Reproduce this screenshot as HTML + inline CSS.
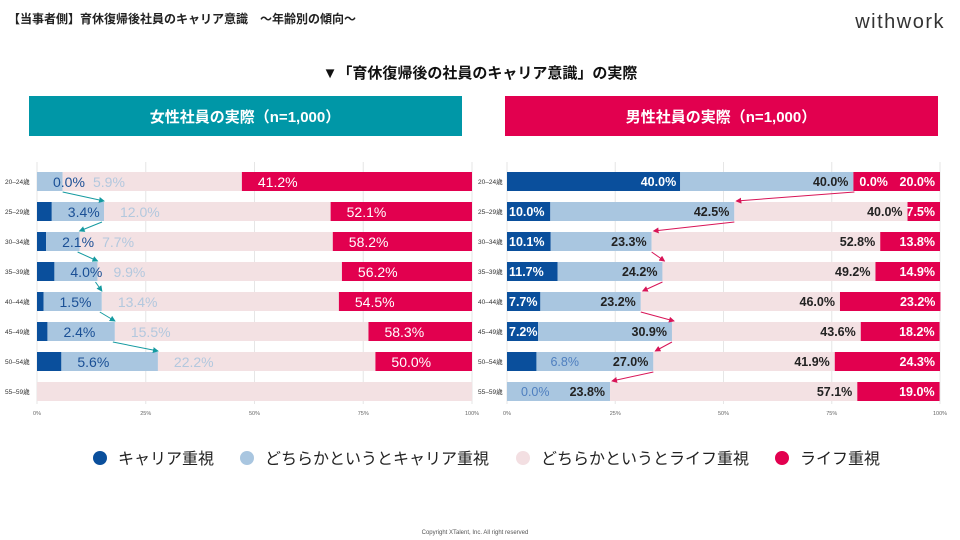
<!DOCTYPE html>
<html><head><meta charset="utf-8">
<style>
html,body{margin:0;padding:0;background:#fff;width:960px;height:540px;overflow:hidden}
svg{display:block;font-family:"Liberation Sans","Noto Sans CJK JP",sans-serif}
</style></head>
<body>
<svg id="page" width="960" height="540" viewBox="0 0 960 540">
<text x="8" y="23" font-size="12" font-weight="bold" fill="#222">【当事者側】育休復帰後社員のキャリア意識　～年齢別の傾向～</text>
<text x="945" y="28" font-size="20" fill="#333" text-anchor="end" letter-spacing="1.5">withwork</text>
<text x="480" y="78" font-size="15" font-weight="bold" fill="#111" text-anchor="middle">▼「育休復帰後の社員のキャリア意識」の実際</text>
<rect x="29" y="96" width="433" height="40" fill="#0097a7"/>
<text x="245" y="122" font-size="15" font-weight="bold" fill="#fff" text-anchor="middle">女性社員の実際（n=1,000）</text>
<rect x="505" y="96" width="433" height="40" fill="#e2004f"/>
<text x="721" y="122" font-size="15" font-weight="bold" fill="#fff" text-anchor="middle">男性社員の実際（n=1,000）</text>
<g id="charts"></g>
<g>
<circle cx="100" cy="458" r="7" fill="#0a4f9c"/>
<text x="118" y="464" font-size="16" fill="#222">キャリア重視</text>
<circle cx="247" cy="458" r="7" fill="#a9c6e0"/>
<text x="265" y="464" font-size="16" fill="#222">どちらかというとキャリア重視</text>
<circle cx="523" cy="458" r="7" fill="#f3dfe2"/>
<text x="541" y="464" font-size="16" fill="#222">どちらかというとライフ重視</text>
<circle cx="782" cy="458" r="7" fill="#e2004f"/>
<text x="800" y="464" font-size="16" fill="#222">ライフ重視</text>
</g>
<text x="475" y="534" font-size="6" fill="#555" text-anchor="middle">Copyright XTalent, Inc. All right reserved</text>
</svg>
<script>
const ages = ["20–24歳","25–29歳","30–34歳","35–39歳","40–44歳","45–49歳","50–54歳","55–59歳"];
const ticks = ["0%","25%","50%","75%","100%"];
const tickVals = [0,25,50,75,100];
// female (drawn segments; red = remainder)
const fCareer = [0.0,3.4,2.1,4.0,1.5,2.4,5.6,0];
const fLeanCareer = [5.9,12.0,7.7,9.9,13.4,15.5,22.2,0];
const fLeanLife = [41.2,52.1,58.2,56.2,54.5,58.3,50.0,100];
const fShow = [true,true,true,true,true,true,true,false];
// male
const mCareer = [40.0,10.0,10.1,11.7,7.7,7.2,6.8,0.0];
const mLeanCareer = [40.0,42.5,23.3,24.2,23.2,30.9,27.0,23.8];
const mLeanLife = [0.0,40.0,52.8,49.2,46.0,43.6,41.9,57.1];
const mLife = [20.0,7.5,13.8,14.9,23.2,18.2,24.3,19.0];

const NS="http://www.w3.org/2000/svg";
const root=document.getElementById('charts');
const C={dark:"#0a4f9c",lb:"#a9c6e0",pink:"#f3e1e3",red:"#e2004f"};
function el(tag,attrs,parent){const e=document.createElementNS(NS,tag);for(const k in attrs)e.setAttribute(k,attrs[k]);(parent||root).appendChild(e);return e;}
function txt(x,y,s,attrs,parent){const t=el('text',Object.assign({x:x,y:y},attrs),parent);t.textContent=s;return t;}
const rowTop=i=>172+30*i, BH=19;

function axes(x0,w,labX,g){
  const xs=v=>x0+w*v/100;
  tickVals.forEach((v,i)=>{
    const l=el('line',{x1:xs(v),x2:xs(v),y1:162,y2:404,stroke:"#e6e6e6","stroke-width":1},g);
    
    
    const t=txt(xs(v),415,ticks[i],{"font-size":5.5,fill:"#666","text-anchor":"middle"},g);
    
    
  });
  ages.forEach((a,i)=>{
    const t=txt(labX,rowTop(i)+12,a,{"font-size":6.5,fill:"#333"},g);
    
    
  });
  return xs;
}
function arrowDefs(){
  const d=el('defs',{});
  [["ah-teal","#159aa0"],["ah-red","#d81557"]].forEach(([id,c])=>{
    const m=el('marker',{id:id,markerWidth:6,markerHeight:6,refX:5,refY:3,orient:"auto"},d);
    el('path',{d:"M0,0 L6,3 L0,6 z",fill:c},m);
  });
}
arrowDefs();

// female chart
(function(){
  const g=el('g',{});
  
  
  const xs=axes(37,435,5,g);
  const lbEnds=[];
  ages.forEach((a,i)=>{
    const y=rowTop(i);
    const a1=fCareer[i],a2=a1+fLeanCareer[i],a3=Math.min(100,a2+fLeanLife[i]);
    const segs=[[0,a1,C.dark,'bar-career'],[a1,a2,C.lb,'bar-lean-career'],[a2,a3,C.pink,'bar-lean-life'],[a3,100,C.red,'bar-life']];
    segs.forEach(s=>{if(s[1]>s[0]){const r=el('rect',{x:xs(s[0]),y:y,width:xs(s[1])-xs(s[0]),height:BH,fill:s[2]},g);
      
      }});
    lbEnds.push(xs(a2));
    if(fShow[i]){
      const l1x=xs(a1)+16;
      const t1=txt(l1x,y+15,fCareer[i].toFixed(1)+"%",{"font-size":14,fill:"#1a4f95"},g);
      
      
      const l2x=Math.max(xs(a2)+16,l1x+40);
      const t2=txt(l2x,y+15,fLeanCareer[i].toFixed(1)+"%",{"font-size":14,fill:"#b3c8de"},g);
      
      
      const t3=txt(xs(a3)+16,y+15,fLeanLife[i].toFixed(1)+"%",{"font-size":14,fill:"#fff"},g);
      
      
    }
  });
  for(let i=0;i<6;i++){
    const ln=el('line',{x1:lbEnds[i]-(i==0?0:2),y1:rowTop(i)+BH+1,x2:lbEnds[i+1],y2:rowTop(i+1)-1,stroke:"#159aa0","stroke-width":1,"marker-end":"url(#ah-teal)"},g);
    
    
  }
})();

// male chart
(function(){
  const g=el('g',{});
  
  
  const xs=axes(507,433,478,g);
  const pts=[];
  ages.forEach((a,i)=>{
    const y=rowTop(i);
    const a1=mCareer[i],a2=a1+mLeanCareer[i],a3=a2+mLeanLife[i],a4=a3+mLife[i];
    const segs=[[0,a1,C.dark,'bar-career'],[a1,a2,C.lb,'bar-lean-career'],[a2,a3,C.pink,'bar-lean-life'],[a3,a4,C.red,'bar-life']];
    segs.forEach(s=>{if(s[1]>s[0]){const r=el('rect',{x:xs(s[0]),y:y,width:xs(s[1])-xs(s[0]),height:BH,fill:s[2]},g);
      
      }});
    const fs=12.5,ty=y+14,fw="bold";
    let t;
    if(a1<7){
      t=txt(xs(a1)+14,ty,mCareer[i].toFixed(1)+"%",{"font-size":fs,fill:"#4f7fbf"},g);
    }else if(a1>=20){
      t=txt(xs(a1)-4,ty,mCareer[i].toFixed(1)+"%",{"font-size":fs,"font-weight":fw,fill:"#fff","text-anchor":"end"},g);
    }else{
      t=txt(xs(0)+2,ty,mCareer[i].toFixed(1)+"%",{"font-size":fs,"font-weight":fw,fill:"#fff"},g);
    }
    
    
    const t2=txt(xs(a2)-5,ty,mLeanCareer[i].toFixed(1)+"%",{"font-size":fs,"font-weight":fw,fill:"#222","text-anchor":"end"},g);
    
    
    let t3;
    if(mLeanLife[i]<5){
      t3=txt(xs(a3)+6,ty,mLeanLife[i].toFixed(1)+"%",{"font-size":fs,"font-weight":fw,fill:"#fff"},g);
    }else{
      t3=txt(xs(a3)-5,ty,mLeanLife[i].toFixed(1)+"%",{"font-size":fs,"font-weight":fw,fill:"#222","text-anchor":"end"},g);
    }
    
    
    const t4=txt(xs(a4)-5,ty,mLife[i].toFixed(1)+"%",{"font-size":fs,"font-weight":fw,fill:"#fff","text-anchor":"end"},g);
    
    
    pts.push(i==0?xs(a3)+1:xs(a2));
  });
  for(let i=0;i<7;i++){
    const ln=el('line',{x1:pts[i],y1:rowTop(i)+BH+1,x2:pts[i+1]+2,y2:rowTop(i+1)-1,stroke:"#d81557","stroke-width":1,"marker-end":"url(#ah-red)"},g);
    
    
  }
})();
</script>
</body></html>
